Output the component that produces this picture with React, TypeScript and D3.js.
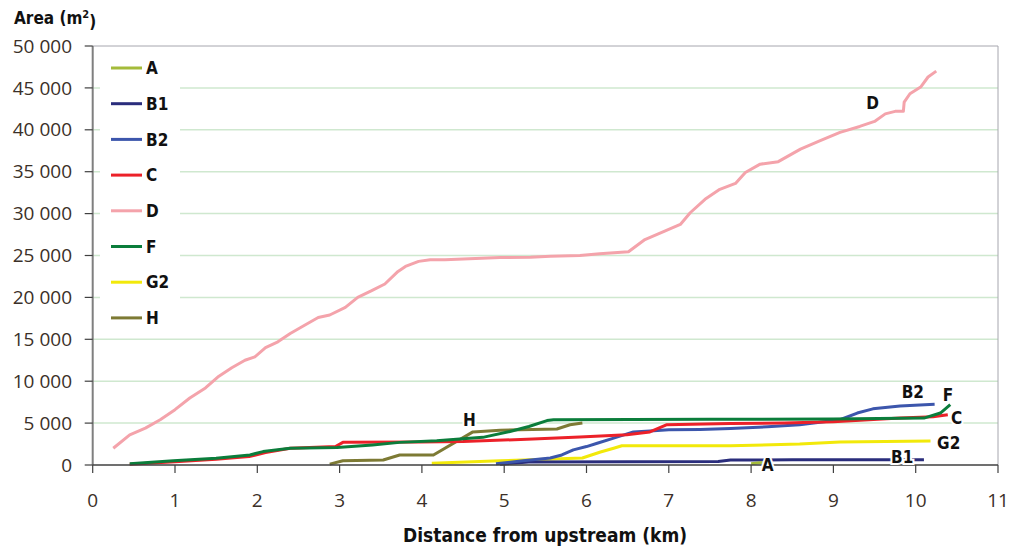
import React from "react";
import * as d3 from "d3";

type Pt = [number, number];

const xTicks = [0, 1, 2, 3, 4, 5, 6, 7, 8, 9, 10, 11];
const yTicks = [0, 5000, 10000, 15000, 20000, 25000, 30000, 35000, 40000, 45000, 50000];

const seriesNames = ["A", "B1", "B2", "C", "D", "F", "G2", "H"];
const seriesColors = ["#a4bb3a", "#2a2d7c", "#3c56ac", "#ec2129", "#f4a3ab", "#0b7d3b", "#f2e90a", "#7d7a34"];

const dataA: Pt[] = [[8.0, 150], [8.08, 250], [8.15, 300]];
const dataB1: Pt[] = [[4.95, 100], [5.3, 350], [6.5, 380], [7.6, 420], [7.75, 600], [8.5, 620], [9.65, 640], [10.1, 640]];
const dataB2: Pt[] = [[4.9, 150], [5.23, 500], [5.56, 840], [5.7, 1200], [5.84, 1800], [6.0, 2200], [6.13, 2600], [6.33, 3200], [6.57, 3950], [6.77, 4050], [7.0, 4200], [7.38, 4250], [7.75, 4350], [8.2, 4550], [8.59, 4800], [9.08, 5400], [9.29, 6200], [9.48, 6700], [9.81, 7050], [10.23, 7250]];
const dataC: Pt[] = [[0.45, 80], [1.0, 400], [1.5, 700], [1.9, 1000], [2.1, 1500], [2.4, 2000], [2.95, 2200], [3.04, 2700], [3.98, 2750], [4.5, 2800], [5.35, 3100], [5.92, 3350], [6.49, 3600], [6.77, 3950], [6.97, 4800], [7.75, 4950], [8.4, 5000], [9.0, 5150], [9.81, 5600], [10.21, 5750], [10.39, 6000]];
const dataD: Pt[] = [[0.25, 2000], [0.45, 3600], [0.64, 4400], [0.82, 5400], [1.0, 6600], [1.18, 8000], [1.37, 9200], [1.52, 10500], [1.69, 11600], [1.85, 12500], [1.97, 12900], [2.1, 14000], [2.25, 14700], [2.4, 15700], [2.58, 16700], [2.74, 17600], [2.88, 17900], [3.07, 18800], [3.22, 20000], [3.39, 20800], [3.55, 21600], [3.71, 23100], [3.8, 23700], [3.96, 24300], [4.1, 24500], [4.28, 24500], [4.95, 24750], [5.32, 24800], [5.56, 24900], [5.92, 25000], [6.16, 25200], [6.51, 25450], [6.71, 26900], [6.95, 27900], [7.14, 28700], [7.26, 30100], [7.44, 31700], [7.62, 32900], [7.81, 33600], [7.93, 34900], [8.11, 35900], [8.33, 36200], [8.6, 37700], [8.84, 38700], [9.08, 39700], [9.32, 40400], [9.5, 41000], [9.63, 41900], [9.75, 42200], [9.85, 42200], [9.86, 43300], [9.93, 44300], [10.06, 45100], [10.15, 46300], [10.25, 47000]];
const dataF: Pt[] = [[0.45, 150], [0.98, 500], [1.5, 800], [1.91, 1200], [2.07, 1600], [2.4, 2000], [2.97, 2100], [3.4, 2400], [3.73, 2700], [4.18, 2900], [4.74, 3300], [5.07, 4000], [5.3, 4600], [5.52, 5300], [5.6, 5400], [7.5, 5450], [9.0, 5500], [10.1, 5600], [10.3, 6200], [10.42, 7200]];
const dataG2: Pt[] = [[4.12, 200], [4.95, 500], [5.95, 840], [6.17, 1550], [6.33, 2000], [6.43, 2300], [7.75, 2300], [8.59, 2500], [9.08, 2750], [10.18, 2850]];
const dataH: Pt[] = [[2.88, 100], [3.04, 500], [3.53, 600], [3.73, 1200], [4.14, 1200], [4.62, 3950], [4.95, 4150], [5.64, 4300], [5.8, 4800], [5.95, 5000]];

const seriesData: Pt[][] = [dataA, dataB1, dataB2, dataC, dataD, dataF, dataG2, dataH];
const drawOrder = [4, 7, 6, 1, 0, 2, 3, 5];

const endLabels: { name: string; x: number; y: number }[] = [
  { name: "D", x: 9.4, y: 43200 },
  { name: "H", x: 4.5, y: 5400 },
  { name: "B2", x: 9.83, y: 8700 },
  { name: "F", x: 10.33, y: 8350 },
  { name: "C", x: 10.43, y: 5600 },
  { name: "G2", x: 10.26, y: 2650 },
  { name: "B1", x: 9.7, y: 950 },
  { name: "A", x: 8.13, y: 0 },
];

const W = 1013;
const H = 554;
const left = 92.7;
const right = 998;
const top = 46;
const bottom = 465;

export default function App() {
  const x = d3.scaleLinear().domain([0, 11]).range([left, right]);
  const y = d3.scaleLinear().domain([0, 50000]).range([bottom, top]);
  const line = d3.line<Pt>().x((d) => x(d[0])).y((d) => y(d[1]));
  const fmt = (v: number) => d3.format(",")(v).replace(/,/g, " ");
  const tickFont = "'Open Sans', 'DejaVu Sans', sans-serif";
  const boldFont = "'DejaVu Sans Condensed', 'Open Sans', sans-serif";

  return (
    <svg width={W} height={H} style={{ position: "absolute", left: 0, top: 0, background: "#fff" }}>
      {yTicks.filter((t) => t > 0 && t < 50000).map((t) => (
        <line key={t} x1={left} x2={right} y1={y(t)} y2={y(t)} stroke="#cfe8cf" strokeWidth={1.5} />
      ))}
      <line x1={left} x2={right} y1={top} y2={top} stroke="#a6a6ae" strokeWidth={1} />
      <line x1={right} x2={right} y1={top} y2={bottom} stroke="#a6a6ae" strokeWidth={1} />
      <rect x={100} y={52} width={80} height={282} fill="#fff" />
      {drawOrder.map((i) => (
        <path key={seriesNames[i]} d={line(seriesData[i]) || ""} fill="none" stroke={seriesColors[i]} strokeWidth={3} strokeLinejoin="round" />
      ))}
      <line x1={left} x2={left} y1={top} y2={bottom} stroke="#7f7f7f" strokeWidth={2} />
      <line x1={left} x2={right} y1={bottom} y2={bottom} stroke="#404040" strokeWidth={1.5} />
      {yTicks.map((t) => (
        <g key={t}>
          <line x1={left - 8} x2={left} y1={y(t)} y2={y(t)} stroke="#404040" strokeWidth={1.2} />
          <text x={72} y={y(t)} dy="0.35em" textAnchor="end" fontFamily={tickFont} fontSize={19} fill="#3b3028">{fmt(t)}</text>
        </g>
      ))}
      {xTicks.map((t) => (
        <g key={t}>
          <line x1={x(t)} x2={x(t)} y1={bottom} y2={bottom + 8} stroke="#404040" strokeWidth={1.2} />
          <text x={x(t)} y={500} dy="0.35em" textAnchor="middle" fontFamily={tickFont} fontSize={19} fill="#3b3028">{t}</text>
        </g>
      ))}
      {seriesNames.map((n, i) => {
        const ly = 68 + i * 35.7;
        return (
          <g key={n}>
            <line x1={111} x2={142} y1={ly} y2={ly} stroke={seriesColors[i]} strokeWidth={3} />
            <text x={146} y={ly} dy="0.36em" fontFamily={boldFont} fontWeight="bold" fontSize={17} fill="#111">{n}</text>
          </g>
        );
      })}
      {endLabels.map((l) => (
        <text key={l.name} x={x(l.x)} y={y(l.y)} dy="0.36em" fontFamily={boldFont} fontWeight="bold" fontSize={17} fill="#111" stroke="#fff" strokeWidth={4} paintOrder="stroke">{l.name}</text>
      ))}
      <text x={14} y={18} dy="0.36em" fontFamily={boldFont} fontWeight="bold" fontSize={17} fill="#111">
        Area (m<tspan fontSize={11} dy="-0.6em">2</tspan><tspan dy="0.6em">)</tspan>
      </text>
      <text x={545} y={535} dy="0.36em" textAnchor="middle" fontFamily={boldFont} fontWeight="bold" fontSize={19} fill="#111">Distance from upstream (km)</text>
    </svg>
  );
}
